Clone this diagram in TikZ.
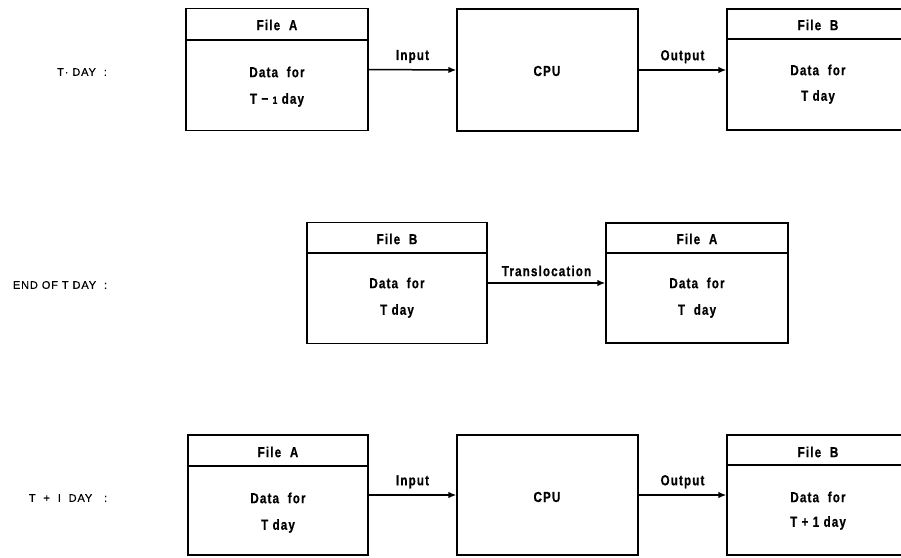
\documentclass[tikz,border=0pt]{standalone}
\usepackage{fontspec}
\setmainfont{Liberation Sans}
\newfontfamily\boxfont{Liberation Sans}[FakeStretch=0.8,LetterSpace=8,BoldFeatures={FakeBold=0.6}]
\newfontfamily\rowfont{Liberation Sans}[LetterSpace=8,FakeBold=0.4]
\usetikzlibrary{arrows.meta}
\begin{document}
\begin{tikzpicture}[x=1pt,y=-1pt,
  boxline/.style={draw=black,line width=1.3pt},
  filebox/.style={boxline,rectangle,inner sep=0pt,minimum width=182pt,minimum height=122pt},
  txt/.style={font=\boxfont\bfseries\fontsize{14.5}{16}\selectfont,inner sep=0pt},
  rowlbl/.style={font=\rowfont\fontsize{11}{12}\selectfont,inner sep=0pt},
  flow/.style={line width=1.5pt,-{Latex[length=8pt,width=6.5pt]}}]
\useasboundingbox (0,0) rectangle (901,557);
\clip (0,0) rectangle (901,557);
\fill[white] (0,0) rectangle (901,557);

% ---------- Row 1: T DAY ----------
\node[rowlbl] (r1) at (82,72) {T· DAY \ :};
\node[filebox] (fA1) at (277,69.5) {};
\draw[boxline] (fA1.west |- 0,40) -- (fA1.east |- 0,40);
\node[txt] (fA1t) at (277,25) {File\ \ A};
\node[txt] (fA1d) at (277,72) {Data\ \ for};
\node[txt] (fA1e) at (277,100) {T − {\fontsize{10.5}{11}\selectfont 1} day};

\node[filebox,minimum width=181pt] (cpu1) at (547.5,70) {};
\node[txt] (cpu1t) at (547,71) {CPU};

\node[filebox,minimum width=183pt,minimum height=121pt] (fB1) at (818.5,69.5) {};
\draw[boxline] (fB1.west |- 0,39) -- (fB1.east |- 0,39);
\node[txt] (fB1t) at (818,25) {File\ \ B};
\node[txt] (fB1d) at (818,70) {Data\ \ for};
\node[txt] (fB1e) at (818,97) {T day};

\draw[flow] (fA1.east) -- (cpu1.west) node[txt,midway,above=6pt] (in1) {Input};
\draw[flow] (cpu1.east) -- (cpu1.east -| fB1.west) node[txt,midway,above=6pt] (out1) {Output};

% ---------- Row 2: END OF T DAY ----------
\node[rowlbl] (r2) at (60,285) {END OF T DAY \ :};
\node[filebox,minimum width=180pt,minimum height=121pt] (fB2) at (397,283) {};
\draw[boxline] (fB2.west |- 0,253) -- (fB2.east |- 0,253);
\node[txt] (fB2t) at (397,239) {File\ \ B};
\node[txt] (fB2d) at (397,283) {Data\ \ for};
\node[txt] (fB2e) at (397,311) {T day};

\node[filebox,minimum width=182pt,minimum height=120pt] (fA2) at (697,283) {};
\draw[boxline] (fA2.west |- 0,253) -- (fA2.east |- 0,253);
\node[txt] (fA2t) at (697,239) {File\ \ A};
\node[txt] (fA2d) at (697,283) {Data\ \ for};
\node[txt] (fA2e) at (697,311) {T\ \ day};

\draw[flow] (fB2.east) -- (fA2.west) node[txt,midway,above=6pt] (tr2) {Translocation};

% ---------- Row 3: T + 1 DAY ----------
\node[rowlbl] (r3) at (68,498) {T \ + \ I \ DAY \ \ :};
\node[filebox,minimum width=180pt,minimum height=120pt] (fA3) at (278,495) {};
\draw[boxline] (fA3.west |- 0,466) -- (fA3.east |- 0,466);
\node[txt] (fA3t) at (278,452) {File\ \ A};
\node[txt] (fA3d) at (278,498) {Data\ \ for};
\node[txt] (fA3e) at (278,526) {T day};

\node[filebox,minimum width=181pt,minimum height=120pt] (cpu3) at (547.5,495) {};
\node[txt] (cpu3t) at (547,497) {CPU};

\node[filebox,minimum width=183pt,minimum height=120pt] (fB3) at (818.5,495) {};
\draw[boxline] (fB3.west |- 0,465) -- (fB3.east |- 0,465);
\node[txt] (fB3t) at (818,452) {File\ \ B};
\node[txt] (fB3d) at (818,497) {Data\ \ for};
\node[txt] (fB3e) at (818,523) {T + 1 day};

\draw[flow] (fA3.east) -- (cpu3.west) node[txt,midway,above=6pt] (in3) {Input};
\draw[flow] (cpu3.east) -- (fB3.west) node[txt,midway,above=6pt] (out3) {Output};
\end{tikzpicture}
\end{document}
